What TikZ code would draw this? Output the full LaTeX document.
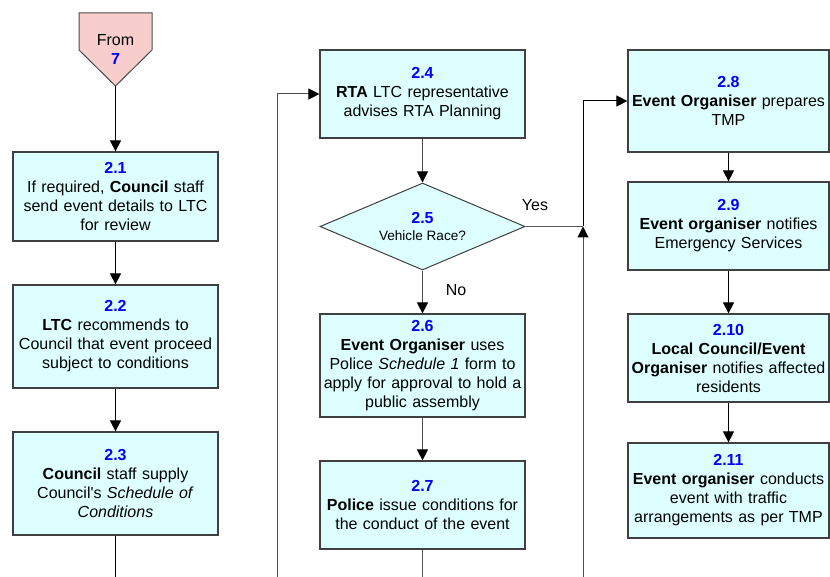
\documentclass[tikz,border=0pt]{standalone}
\usepackage{fontspec}
\setmainfont{Liberation Sans}
\usepackage{tikz}
\usetikzlibrary{arrows.meta}
\usetikzlibrary{shapes.geometric}

\definecolor{boxfill}{HTML}{DDFFFF}
\definecolor{fromfill}{HTML}{F8CECC}
\definecolor{stepblue}{HTML}{0000FF}
\newcommand{\stepno}[1]{{\color{stepblue}\textbf{#1}}}

\tikzset{
  stepbox/.style={rectangle, draw=black!75, line width=1.2pt, fill=boxfill,
       minimum width=205pt, text width=203pt, align=center, inner sep=0pt,
       font=\fontsize{16}{19}\selectfont},
  decision/.style={diamond, draw=black!75, line width=1pt, fill=boxfill,
       minimum width=205pt, minimum height=87pt, aspect=2.36, inner sep=0pt,
       align=center, font=\fontsize{13.6}{17}\selectfont},
  flow/.style={line width=1pt, -{Triangle[length=11pt,width=11pt,color=black]}},
  feed/.style={line width=1pt, draw=black!65},
  answer/.style={font=\fontsize{16}{19}\selectfont}
}

\begin{document}
\begin{tikzpicture}[x=1pt, y=-1pt]

\clip (0,0) rectangle (830,577);
\fill[white] (0,0) rectangle (830,577);

\draw[fill=fromfill, draw=black!70, line width=1pt]
  (79,13) -- (152,13) -- (152,50) -- (115.5,86) -- (79,50) -- cycle;
\node[answer, align=center] (from7) at (115.5,49) {From\\\stepno{7}};
\coordinate (fromtip) at (115.5,86);

\node[stepbox, minimum height=89pt] (b21) at (115.5,196.5)
  {\stepno{2.1}\\If required, \textbf{Council} staff\\send event details to LTC\\for review};
\node[stepbox, minimum height=103pt] (b22) at (115.5,336.5)
  {\stepno{2.2}\\\textbf{LTC} recommends to\\Council that event proceed\\subject to conditions};
\node[stepbox, minimum height=103pt] (b23) at (115.5,483.5)
  {\stepno{2.3}\\\textbf{Council} staff supply\\Council\textquotesingle s \textit{Schedule of}\\\textit{Conditions}};

\node[stepbox, minimum height=88pt] (b24) at (422.5,94)
  {\stepno{2.4}\\\textbf{RTA} LTC representative\\advises RTA Planning};
\node[decision] (b25) at (422.5,226.5)
  {{\fontsize{16}{19}\selectfont\stepno{2.5}}\\Vehicle Race?};
\node[stepbox, minimum height=103pt] (b26) at (422.5,365.5)
  {\stepno{2.6}\\\textbf{Event Organiser} uses\\Police \textit{Schedule 1} form to\\apply for approval to hold a\\public assembly};
\node[stepbox, minimum height=88pt] (b27) at (422.5,505)
  {\stepno{2.7}\\\textbf{Police} issue conditions for\\the conduct of the event};

\node[stepbox, minimum width=201pt, text width=199pt, minimum height=102pt] (b28) at (728.5,101)
  {\stepno{2.8}\\\textbf{Event Organiser} prepares\\TMP};
\node[stepbox, minimum width=201pt, text width=199pt, minimum height=88pt] (b29) at (728.5,226)
  {\stepno{2.9}\\\textbf{Event organiser} notifies\\Emergency Services};
\node[stepbox, minimum width=201pt, text width=199pt, minimum height=88pt] (b210) at (728.5,358)
  {\stepno{2.10}\\\textbf{Local Council/Event}\\\textbf{Organiser} notifies affected\\residents};
\node[stepbox, minimum width=201pt, text width=199pt, minimum height=95pt] (b211) at (728.5,490.5)
  {\stepno{2.11}\\\textbf{Event organiser} conducts\\event with traffic\\arrangements as per TMP};

\coordinate (outleft) at (115.5,577);
\coordinate (loopbot) at (277,577);
\coordinate (outmid) at (422.5,577);
\coordinate (racebot) at (583,577);
\coordinate (yesjoin) at (583,226.5);

\node[answer] (yes) at (535,205) {Yes};
\node[answer] (no) at (456,290) {No};

\draw[flow] (fromtip) -- (b21);
\draw[flow] (b21) -- (b22);
\draw[flow] (b22) -- (b23);
\draw[line width=1pt] (b23) -- (outleft);
\draw[flow, draw=black!70] (loopbot) |- (b24.west);
\draw[flow, draw=black!70] (b24) -- (b25);
\draw[feed] (b25.east) -- (yesjoin);
\draw[flow, draw=black!70] (b25) -- (b26);
\draw[flow, draw=black!70] (b26) -- (b27);
\draw[feed] (b27) -- (outmid);
\draw[flow, draw=black!70] (racebot) -- (yesjoin);
\draw[flow] (yesjoin) |- (b28.west);
\draw[flow] (b28) -- (b29);
\draw[flow] (b29) -- (b210);
\draw[flow] (b210) -- (b211);
\end{tikzpicture}
\end{document}
